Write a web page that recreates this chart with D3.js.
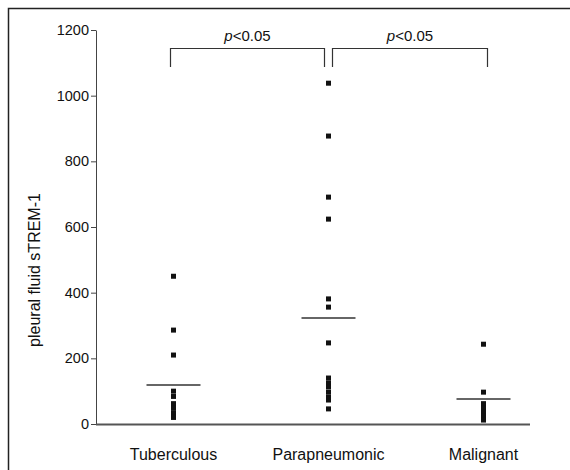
<!DOCTYPE html>
<html>
<head>
<meta charset="utf-8">
<script src="https://cdn.jsdelivr.net/npm/d3@7"></script>
<style>
  body { margin: 0; background: #fff; }
  svg { display: block; font-family: "Liberation Sans", Arial, sans-serif; }
</style>
</head>
<body>
<svg width="570" height="470"></svg>
<script>
(function() {

  var groups = ["Tuberculous", "Parapneumonic", "Malignant"];
  var tuberculous = [450, 286, 210, 100, 84, 62, 48, 34, 20];
  var parapneumonic = [1038, 877, 691, 624, 381, 356, 247, 140, 125, 113, 97, 82, 73, 46];
  var malignant = [243, 97, 62, 48, 36, 24, 12];
  var centreLines = [119, 323, 76];
  var yTicks = [0, 200, 400, 600, 800, 1000, 1200];
  var brackets = [["Tuberculous", "Parapneumonic"], ["Parapneumonic", "Malignant"]];
  var bracketText = "<0.05";

  var values = [tuberculous, parapneumonic, malignant];

  var svg = d3.select("svg");

  // outer frame, runs off the right and bottom edges
  svg.append("rect")
    .attr("x", 8.5).attr("y", 8.5)
    .attr("width", 600).attr("height", 500)
    .attr("fill", "none")
    .attr("stroke", "#222")
    .attr("stroke-width", 1.5);

  var y = d3.scaleLinear().domain([0, 1200]).range([424, 30]);
  var x = d3.scalePoint().domain(groups).range([96, 561]).padding(0.5);

  // y axis
  var yAxis = svg.append("g")
    .attr("transform", "translate(96,0)")
    .call(d3.axisLeft(y).tickValues(yTicks).tickFormat(d3.format("d")).tickSize(5).tickSizeOuter(0));
  yAxis.select(".domain").attr("stroke", "#444");
  yAxis.selectAll(".tick line").attr("stroke", "#444");
  yAxis.selectAll(".tick text")
    .attr("x", -7)
    .attr("font-size", 14.5)
    .attr("font-family", "Liberation Sans, Arial, sans-serif")
    .attr("fill", "#111");

  // x axis line
  svg.append("line")
    .attr("x1", 96).attr("x2", 530)
    .attr("y1", y(0) + 0.5).attr("y2", y(0) + 0.5)
    .attr("stroke", "#555")
    .attr("stroke-width", 2);

  svg.selectAll(".cat")
    .data(groups)
    .enter().append("text")
    .attr("class", "cat")
    .attr("x", function(d) { return x(d); })
    .attr("y", 460)
    .attr("text-anchor", "middle")
    .attr("font-size", 16)
    .attr("fill", "#111")
    .text(function(d) { return d; });

  svg.append("text")
    .attr("transform", "translate(40,270) rotate(-90)")
    .attr("text-anchor", "middle")
    .attr("font-size", 16)
    .attr("fill", "#111")
    .text("pleural fluid sTREM-1");

  // centre lines
  svg.selectAll(".mid")
    .data(centreLines)
    .enter().append("line")
    .attr("class", "mid")
    .attr("x1", function(d, i) { return x(groups[i]) - 27; })
    .attr("x2", function(d, i) { return x(groups[i]) + 27; })
    .attr("y1", function(d) { return y(d); })
    .attr("y2", function(d) { return y(d); })
    .attr("stroke", "#333")
    .attr("stroke-width", 1.5);

  // points
  var pts = [];
  values.forEach(function(arr, i) {
    arr.forEach(function(v) { pts.push({g: groups[i], v: v}); });
  });
  svg.selectAll(".pt")
    .data(pts)
    .enter().append("rect")
    .attr("class", "pt")
    .attr("x", function(d) { return x(d.g) - 2.5; })
    .attr("y", function(d) { return y(d.v) - 2.5; })
    .attr("width", 5)
    .attr("height", 5)
    .attr("fill", "#111");

  // significance brackets
  brackets.forEach(function(b, i) {
    var x1 = x(b[0]) + (i == 1 ? 4 : -3);
    var x2 = x(b[1]) + (i == 0 ? -4 : 4);
    var top = 48.5, bottom = 67;
    svg.append("path")
      .attr("d", "M" + x1 + "," + bottom + "V" + top + "H" + x2 + "V" + bottom)
      .attr("fill", "none")
      .attr("stroke", "#333")
      .attr("stroke-width", 1.2);
    var t = svg.append("text")
      .attr("x", (x1 + x2) / 2)
      .attr("y", 41)
      .attr("text-anchor", "middle")
      .attr("font-size", 15)
      .attr("fill", "#111");
    t.append("tspan").attr("font-style", "italic").text("p");
    t.append("tspan").text(bracketText);
  });

})();
</script>
</body>
</html>
